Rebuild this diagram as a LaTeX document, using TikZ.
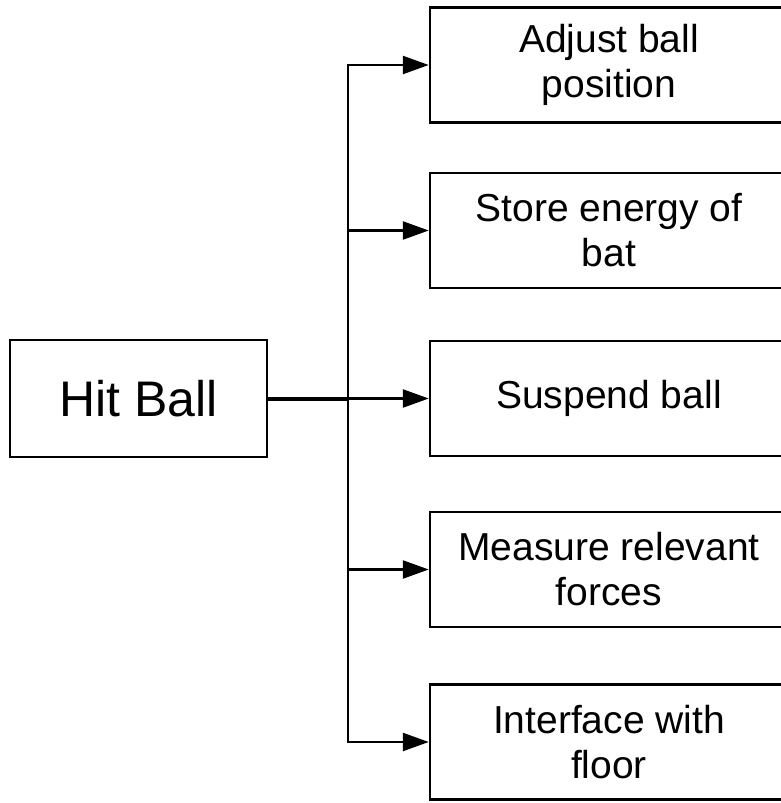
\documentclass[tikz,border=0pt]{standalone}
\usepackage{fontspec}
\setmainfont{Liberation Sans}
\usetikzlibrary{arrows.meta}
\begin{document}
\begin{tikzpicture}[x=1pt,y=-1pt,
  box/.style={draw,line width=2.5pt,inner sep=0pt,align=center,
    font=\fontsize{39}{45}\selectfont},
  fbox/.style={box,minimum width=358pt,minimum height=115pt},
  arr/.style={line width=2.5pt,-{Triangle[length=26pt,width=18pt]}},
  link/.style={line width=2.5pt}]
\useasboundingbox (0,0) rectangle (780,803);
\fill[white] (0,0) rectangle (780,803);
\node[box,minimum width=257pt,minimum height=117pt,font=\fontsize{50}{56}\selectfont]
  (hit) at (138.5,398.5) {Hit Ball};
\node[fbox] (b1) at (609,65) {Adjust ball\\position};
\node[fbox] (b2) at (609,230.5) {Store energy of\\bat};
\node[fbox] (b3) at (609,398.5) {Suspend ball};
\node[fbox] (b4) at (609,569.5) {Measure relevant\\forces};
\node[fbox] (b5) at (609,742) {Interface with\\floor};
\coordinate (j) at (348,398.5);
\draw[line width=4pt] (hit.east) -- (j);
\draw[arr] (j) |- (b1.west);
\draw[arr] (j) |- (b2.west);
\draw[arr] (j) -- (b3.west);
\draw[arr] (j) |- (b4.west);
\draw[arr] (j) |- (b5.west);
\end{tikzpicture}
\end{document}
